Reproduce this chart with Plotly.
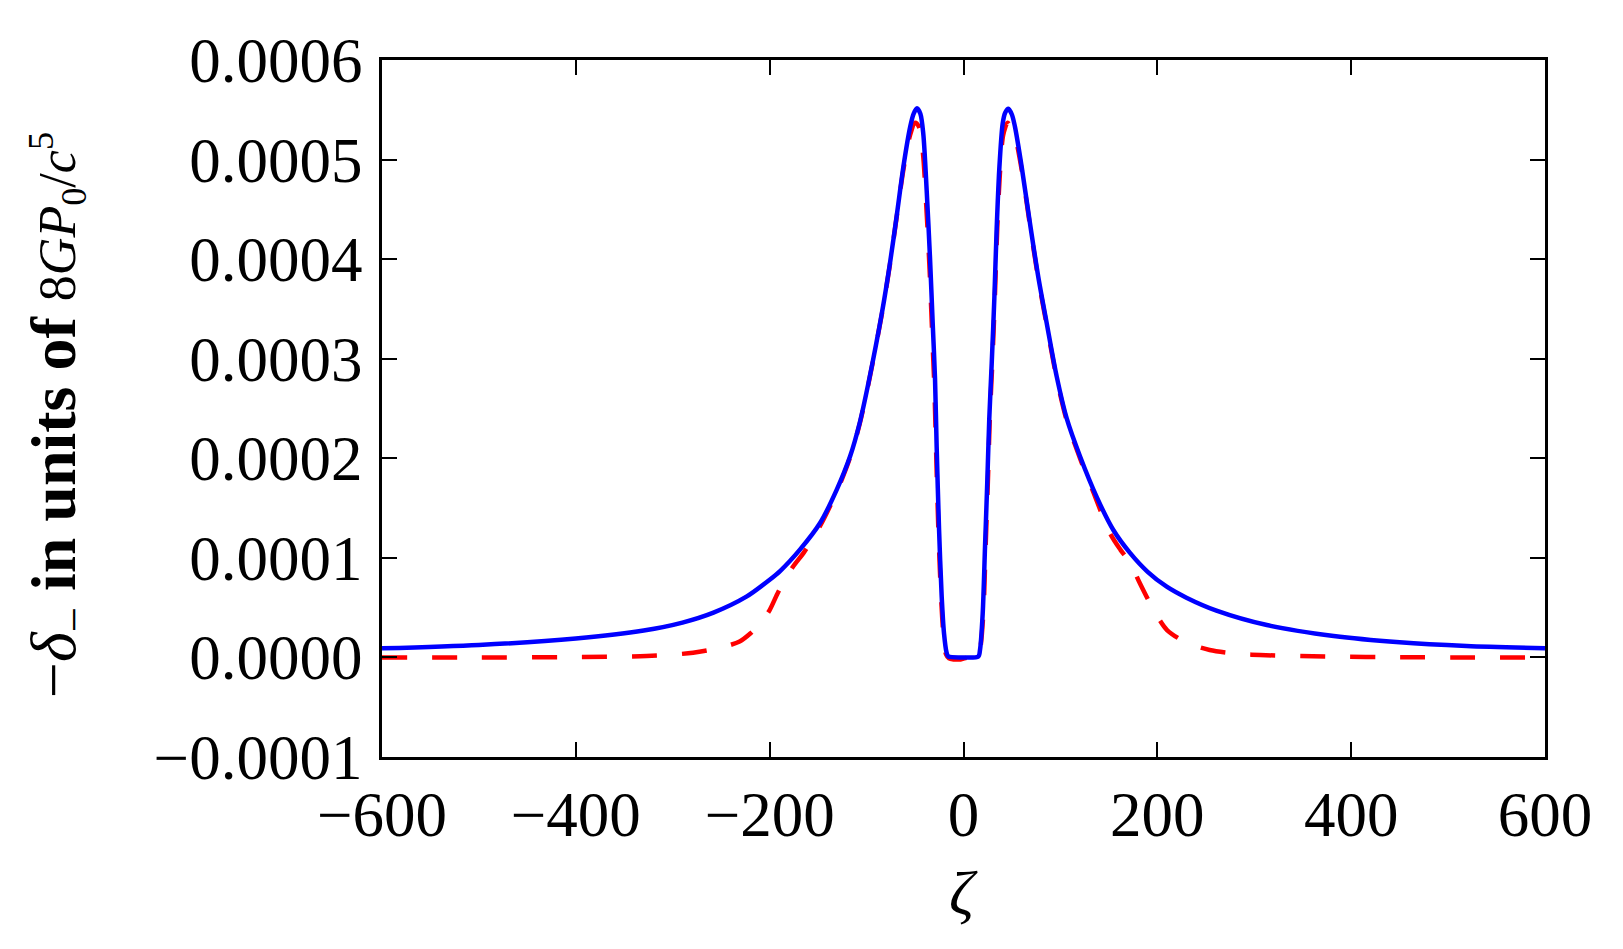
import plotly.graph_objects as go

# zeta values and -delta_- values (units of 1e-4)
zeta_full = [-600, -500, -400, -330, -290, -258, -224, -200, -189, -169, -148, -131,
             -117, -107, -98, -84, -76, -69, -62, -55, -51.5, -48, -44.5, -41.5, -38,
             -34.6, -31.8, -29.4, -27.7, -25.2, -22.5, -20.1, -17.5, -15.7, 0, 15.3,
             17, 19.8, 22.2, 24.6, 26.6, 29.1, 31.8, 34.2, 36.9, 40.4, 43, 46.3, 50,
             53.1, 60, 68.6, 77.2, 85.8, 96.2, 106.5, 120.2, 137.5, 154.6, 171.8, 190,
             209.7, 230, 261, 313, 382, 450, 519, 600]
delta_full = [0.091, 0.125, 0.19, 0.27, 0.35, 0.45, 0.61, 0.78, 0.87, 1.08, 1.35, 1.68,
              2.02, 2.36, 2.76, 3.47, 3.95, 4.43, 4.93, 5.33, 5.46, 5.515, 5.46, 5.26, 4.69,
              4.02, 3.36, 2.80, 2.12, 1.28, 0.61, 0.24, 0.05, 0.01, 0.0, 0.01,
              0.074, 0.44, 1.11, 1.78, 2.40, 2.95, 3.60, 4.30, 4.90, 5.36, 5.47, 5.51, 5.45,
              5.33, 4.93, 4.36, 3.82, 3.36, 2.82, 2.40, 2.02, 1.61, 1.28, 1.05, 0.86,
              0.71, 0.60, 0.47, 0.325, 0.215, 0.152, 0.115, 0.091]

zeta_approx = [-600, -500, -400, -327, -279, -250, -231, -220, -210, -200, -191, -176,
               -165, -148, -131, -117, -107, -98, -84, -76, -69, -62, -55, -50, -46, -42,
               -38.5, -35, -32.5, -30, -28.2, -25.7, -23, -20.5, -18, -15, -10, -3, 5,
               15, 17.5, 20.5, 22.8, 25.2, 27.2, 29.7, 32.3, 34.8, 37.5, 41, 45.5, 49,
               53.5, 60, 68.6, 77.2, 85.8, 96.2, 106.5, 120.2, 134, 151, 162, 172, 182,
               196, 210, 230, 254, 280, 306, 381, 450, 520, 600]
delta_approx = [0.0, 0.0, 0.003, 0.014, 0.047, 0.10, 0.16, 0.24, 0.34, 0.476, 0.66, 0.91,
                1.05, 1.32, 1.66, 2.01, 2.35, 2.75, 3.46, 3.94, 4.42, 4.90, 5.25, 5.37, 5.33, 5.08,
                4.55, 3.90, 3.30, 2.70, 2.05, 1.22, 0.58, 0.20, 0.03, -0.01, -0.02, -0.02, 0.0,
                0.0, 0.10, 0.45, 1.10, 1.78, 2.42, 2.95, 3.60, 4.30, 4.85, 5.25, 5.37, 5.32,
                5.22, 4.90, 4.34, 3.80, 3.34, 2.80, 2.38, 2.00, 1.66, 1.25, 1.08, 0.95, 0.744,
                0.48, 0.275, 0.15, 0.074, 0.04, 0.024, 0.008, 0.003, 0.0, 0.0]

scale = 1e-4
y_ticks = [-0.0001, 0.0, 0.0001, 0.0002, 0.0003, 0.0004, 0.0005, 0.0006]
x_ticks = [-600, -400, -200, 0, 200, 400, 600]

FONT = "Liberation Serif"

fig = go.Figure()
fig.add_trace(go.Scatter(
    x=zeta_approx, y=[v * scale for v in delta_approx], mode="lines",
    line=dict(color="#ff0000", width=4.5, dash="25px,25px", shape="spline", smoothing=0.8),
    showlegend=False))
fig.add_trace(go.Scatter(
    x=zeta_full, y=[v * scale for v in delta_full], mode="lines",
    line=dict(color="#0000ff", width=4.5, shape="spline", smoothing=0.8),
    showlegend=False))

axis_common = dict(showgrid=False, zeroline=False, showline=True, linecolor="black",
                   linewidth=3, mirror="ticks", ticks="inside", ticklen=15, tickwidth=1.5,
                   tickcolor="black", tickfont=dict(family=FONT, size=63, color="black"))

fig.update_xaxes(range=[-600, 600], tickvals=x_ticks,
                 ticktext=[("\u2212" + str(-t)) if t < 0 else str(t) for t in x_ticks],
                 **axis_common)
fig.update_yaxes(range=[-0.0001, 0.0006], tickvals=y_ticks,
                 ticktext=[("\u2212%.4f" % -t) if t < 0 else "%.4f" % t for t in y_ticks],
                 ticklabelstandoff=4, **axis_common)

fig.add_annotation(
    xref="paper", yref="paper", x=-0.278, y=0.49, xanchor="center", yanchor="middle",
    textangle=-90, showarrow=False,
    text=("\u2212<i>\u03b4</i><sub>\u2212</sub> <b>in units of</b> "
          "<span style='font-size:52px'>8<i>GP</i><sub>0</sub>/<i>c</i><sup>5</sup></span>"),
    font=dict(family=FONT, size=64, color="black"))
fig.add_annotation(
    xref="paper", yref="paper", x=0.5, y=-0.195, xanchor="center", yanchor="middle",
    showarrow=False, text="<i>\u03b6</i>",
    font=dict(family=FONT, size=62, color="black"))

fig.update_layout(width=1623, height=949, margin=dict(l=382, r=78, t=60, b=192),
                  plot_bgcolor="white", paper_bgcolor="white")

fig.write_html("out.html")
